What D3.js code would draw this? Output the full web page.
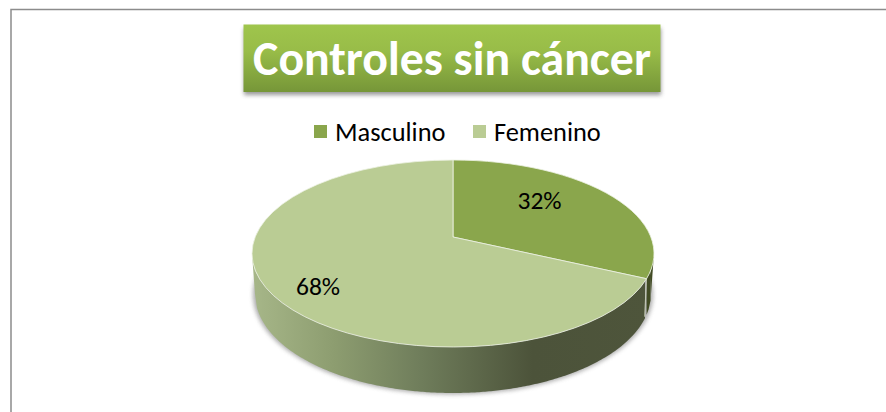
<!DOCTYPE html>
<html><head><meta charset="utf-8">
<script src="https://cdn.jsdelivr.net/npm/d3@7"></script>
<style>html,body{margin:0;background:#fff}svg{display:block}</style></head>
<body><svg id="c" width="886" height="412"></svg>
<script>
const categories = ["Masculino", "Femenino"];
const values = [32, 68];
const labels = ["32%", "68%"];
const colors = ["#8aa64c", "#bacc94"];
const titleText = "Controles sin cáncer";

const font = "Carlito, Calibri, Lato, 'Open Sans', 'Noto Sans', sans-serif";
const svg = d3.select("#c");
const defs = svg.append("defs");

const tg = defs.append("linearGradient").attr("id","tg").attr("x1",0).attr("x2",0).attr("y1",0).attr("y2",1);
tg.append("stop").attr("offset",0).attr("stop-color","#9fc54c");
tg.append("stop").attr("offset",.4).attr("stop-color","#98bc48");
tg.append("stop").attr("offset",1).attr("stop-color","#769638");

const wg = defs.append("linearGradient").attr("id","wg").attr("gradientUnits","userSpaceOnUse")
  .attr("x1",254).attr("x2",652).attr("y1",0).attr("y2",0);
[[0,"#a6b688"],[.2,"#8d9d70"],[.42,"#6f7d5b"],[.7,"#4c533a"],[1,"#4e553b"]].forEach(s=>
  wg.append("stop").attr("offset",s[0]).attr("stop-color",s[1]));

defs.append("filter").attr("id","b1").attr("x","-20%").attr("y","-20%").attr("width","140%").attr("height","140%")
  .append("feGaussianBlur").attr("stdDeviation",2.2);
defs.append("filter").attr("id","b2").attr("x","-10%").attr("y","-40%").attr("width","120%").attr("height","180%")
  .append("feGaussianBlur").attr("stdDeviation",2);

// page frame
svg.append("path").attr("d","M11,412V9.5H886").attr("fill","none").attr("stroke","#8c8c8c").attr("stroke-width",1.5);

// title
svg.append("rect").attr("x",244).attr("y",28).attr("width",417).attr("height",67).attr("fill","#555").attr("opacity",.6).attr("filter","url(#b2)");
svg.append("rect").attr("x",243.5).attr("y",24.5).attr("width",417).attr("height",67.5).attr("fill","url(#tg)");
svg.append("text").attr("x",452).attr("y",75).attr("text-anchor","middle").attr("fill","#fff")
  .attr("font-family",font).attr("font-weight",700).attr("font-size",47.8).text(titleText);

// legend
const legendX = [314, 473];
categories.forEach((c,i)=>{
  svg.append("rect").attr("x",legendX[i]).attr("y",125).attr("width",13).attr("height",13).attr("fill",colors[i]);
  svg.append("text").attr("x",legendX[i]+21).attr("y",141).attr("fill","#000").attr("font-family",font).attr("font-size",26.4).text(c);
});

// pie in perspective: d3.pie gives the angles, homography places them
const apex = {x:453, y:237};
const top_ = 160, bot = 347, rx = 201, depth = 46;
const k = ((bot-apex.y)-(apex.y-top_))/((bot-apex.y)+(apex.y-top_));
const A = (apex.y-top_)*(1+k), B = rx*Math.sqrt(1-k*k);
const proj = a => { const u=Math.sin(a), v=-Math.cos(a), d=1-k*v; return [apex.x+B*u/d, apex.y+A*v/d]; };
const cy = (top_+bot)/2, ry = (bot-top_)/2;

const pie = d3.pie().sort(null).startAngle(0).endAngle(2*Math.PI);
const arcs = pie(values);

// soft shadow beneath wall
svg.append("ellipse").attr("cx",apex.x).attr("cy",cy+41).attr("rx",rx-1).attr("ry",ry+6.5).attr("fill","#777").attr("opacity",.6).attr("filter","url(#b1)");

// wall
const wr = rx-3, wry = ry+5.5, wcy = bot+depth-wry;
const wall = (x0,x1)=>{
  const yT = x=>cy+ry*Math.sqrt(Math.max(0,1-((x-apex.x)/rx)**2));
  const yB = x=>wcy+wry*Math.sqrt(Math.max(0,1-((x-apex.x)/wr)**2));
  const xs = d3.range(x0,x1+.01,2);
  return d3.line()(xs.map(x=>[x,yT(x)]).concat(xs.slice().reverse().map(x=>[x,yB(x)])));
};
const split = proj(arcs[0].endAngle);
svg.append("path").attr("d",wall(apex.x-wr,split[0])).attr("fill","url(#wg)");
svg.append("path").attr("d",wall(split[0],apex.x+wr)).attr("fill","#414b24");
// wall left/right edge fill
svg.append("path").attr("d",d3.line()([[apex.x-wr,wcy],[apex.x-rx,cy],[apex.x-rx+4,cy+22],[apex.x-wr,cy+42]])).attr("fill","#a6b688");
svg.append("path").attr("d",d3.line()([[apex.x+wr,wcy],[apex.x+rx,cy],[apex.x+rx-4,cy+22],[apex.x+wr,cy+42]])).attr("fill","#414b24");
// light seam between the wall pieces
svg.append("line").attr("x1",split[0]).attr("y1",split[1]).attr("x2",split[0]-2).attr("y2",split[1]+38)
  .attr("stroke","#c9d1b8").attr("stroke-width",.8);

// top face
svg.selectAll("path.slice").data(arcs).enter().append("path").attr("class","slice")
  .attr("d",d=>{
    const p0=proj(d.startAngle),p1=proj(d.endAngle),large=(d.endAngle-d.startAngle)>Math.PI?1:0;
    return `M${apex.x},${apex.y}L${p0}A${rx},${ry} 0 ${large} 1 ${p1}Z`;
  })
  .attr("fill",(d,i)=>colors[i]).attr("stroke","#eef2e4").attr("stroke-width",.8);

// data labels
const lx=[539.5,318], ly=[209,295];
labels.forEach((l,i)=>svg.append("text").attr("x",lx[i]).attr("y",ly[i]).attr("text-anchor","middle")
  .attr("fill","#000").attr("font-family",font).attr("font-size",25.5).text(l));
</script></body></html>
